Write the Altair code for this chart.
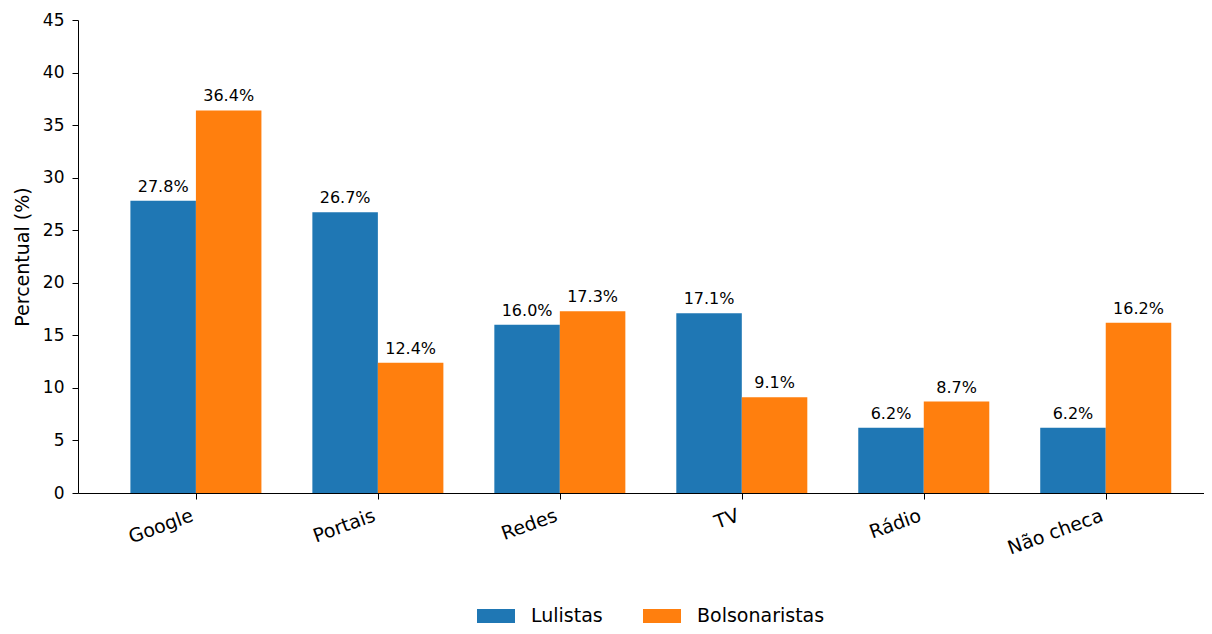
import json
import altair as alt
import pandas as pd

categories = ["Google", "Portais", "Redes", "TV", "Rádio", "Não checa"]
lulistas = [27.8, 26.7, 16.0, 17.1, 6.2, 6.2]
bolsonaristas = [36.4, 12.4, 17.3, 9.1, 8.7, 16.2]
groups = ["Lulistas", "Bolsonaristas"]
colors = ["#1f77b4", "#ff7f0e"]
y_ticks = [0, 5, 10, 15, 20, 25, 30, 35, 40, 45]

rows = []
for i, c in enumerate(categories):
    rows.append({"cat": c, "idx": i, "grp": groups[0], "side": -1, "value": lulistas[i]})
    rows.append({"cat": c, "idx": i, "grp": groups[1], "side": 1, "value": bolsonaristas[i]})
df = pd.DataFrame(rows)

W = 0.36
label_expr = json.dumps(categories) + "[datum.value]"

xscale = alt.Scale(domain=[-0.648, 5.54], nice=False, zero=False)
yscale = alt.Scale(domain=[0, 45], nice=False)

base = alt.Chart(df).transform_calculate(
    x0=f"datum.idx + (datum.side < 0 ? -{W} : 0)",
    x1=f"datum.idx + (datum.side < 0 ? 0 : {W})",
    xc=f"datum.idx + datum.side * {W / 2}",
    lbl="format(datum.value, '.1f') + '%'",
)

bars = base.mark_bar(cornerRadius=0).encode(
    x=alt.X("x0:Q", scale=xscale,
            axis=alt.Axis(values=list(range(len(categories))), labelExpr=label_expr,
                          title=None, grid=False, labelAngle=-20, labelAlign="right",
                          labelBaseline="top", labelFontSize=19, labelPadding=7,
                          labelOffset=-7,
                          tickSize=6, tickColor="black", domainColor="black",
                          labelColor="black")),
    x2="x1:Q",
    y=alt.Y("value:Q", scale=yscale,
            axis=alt.Axis(values=y_ticks, title="Percentual (%)", grid=False,
                          labelFontSize=17, titleFontSize=19, titleFontWeight="normal",
                          titleColor="black", labelColor="black", tickSize=6,
                          tickColor="black", domainColor="black", titlePadding=10,
                          labelPadding=8)),
    y2=alt.datum(0),
    color=alt.Color("grp:N", scale=alt.Scale(domain=groups, range=colors),
                    legend=alt.Legend(title=None, orient="none", direction="horizontal",
                                      legendX=399, legendY=577,
                                      symbolType="M-1,-0.368H1V0.368H-1Z",
                                      symbolSize=1444, symbolStrokeWidth=0,
                                      symbolOpacity=1,
                                      labelFontSize=19, labelColor="black",
                                      labelOffset=16, columnPadding=40, padding=0)),
)

labels = base.mark_text(baseline="alphabetic", dy=-9, fontSize=16, color="black").encode(
    x=alt.X("xc:Q", scale=xscale),
    y=alt.Y("value:Q", scale=yscale),
    text="lbl:N",
)

chart = (bars + labels).properties(
    width=1126, height=473,
    autosize=alt.AutoSizeParams(type="none"),
    padding={"left": 70, "top": 12, "right": 0, "bottom": 133},
).configure(font="DejaVu Sans").configure_view(stroke=None)

chart.save("out.html", embed_options={"renderer": "svg", "actions": False})
